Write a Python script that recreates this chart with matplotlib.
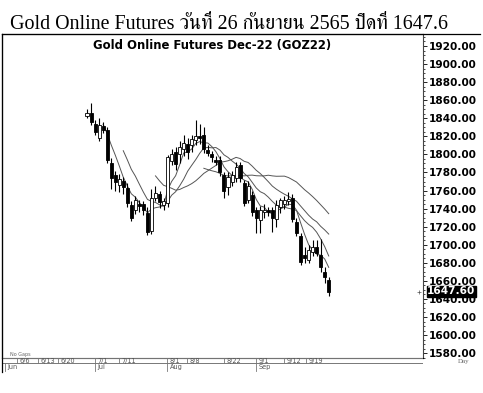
import matplotlib
matplotlib.use("Agg")
import matplotlib.pyplot as plt
from matplotlib import font_manager
from matplotlib.ft2font import FT2Font
from matplotlib.lines import Line2D
from matplotlib.ticker import MultipleLocator, FormatStrFormatter
import numpy as np
import pandas as pd

# daily candles, GOZ22, 29 Jun .. 26 Sep 2022
opens = [1842, 1846, 1834, 1818, 1832, 1827, 1791, 1777, 1766, 1771,
         1763, 1744, 1738, 1745, 1745, 1735, 1715, 1752, 1756, 1744,
         1746, 1793, 1803, 1800, 1806, 1812, 1810, 1816, 1820, 1822,
         1805, 1800, 1794, 1794, 1777, 1764, 1770, 1774, 1788, 1768,
         1750, 1755, 1738, 1727, 1736, 1738, 1738, 1728, 1742, 1745,
         1748, 1752, 1725, 1710, 1689, 1683, 1692, 1697, 1689, 1670,
         1661]
highs = [1850, 1857, 1838, 1840, 1836, 1830, 1796, 1782, 1778, 1775,
         1768, 1748, 1754, 1750, 1748, 1742, 1762, 1765, 1760, 1752,
         1799, 1806, 1808, 1815, 1822, 1818, 1822, 1838, 1834, 1830,
         1810, 1804, 1798, 1798, 1780, 1780, 1782, 1792, 1792, 1772,
         1771, 1760, 1742, 1743, 1745, 1742, 1742, 1750, 1752, 1754,
         1758, 1756, 1730, 1713, 1698, 1700, 1705, 1705, 1706, 1675,
         1664]
lows = [1840, 1833, 1822, 1815, 1824, 1790, 1762, 1760, 1758, 1756,
        1742, 1726, 1734, 1736, 1733, 1711, 1712, 1748, 1741, 1738,
        1742, 1788, 1783, 1790, 1798, 1795, 1803, 1810, 1812, 1802,
        1798, 1792, 1788, 1776, 1752, 1755, 1765, 1770, 1770, 1743,
        1746, 1732, 1713, 1713, 1730, 1732, 1714, 1720, 1735, 1740,
        1744, 1725, 1710, 1678, 1680, 1680, 1688, 1688, 1670, 1658,
        1643]
closes = [1846, 1836, 1825, 1833, 1827, 1794, 1774, 1769, 1773, 1764,
          1746, 1730, 1750, 1743, 1739, 1714, 1752, 1757, 1747, 1748,
          1797, 1801, 1789, 1808, 1813, 1803, 1817, 1820, 1818, 1806,
          1802, 1797, 1792, 1780, 1760, 1775, 1777, 1786, 1774, 1746,
          1765, 1736, 1730, 1738, 1739, 1736, 1730, 1744, 1749, 1750,
          1751, 1728, 1713, 1681, 1685, 1694, 1697, 1691, 1675, 1664,
          1647.6]
ma_windows = [5, 10, 18, 30]

# date scale (trading-day index, 0 = first candle)
day_ticks = [-17.4, -12.2, -7.2, 2, 7.9, 19.9, 24.8, 34, 41.9, 48.9, 54.3]
day_labels = ["6/6", "6/13", "6/20", "7/1", "7/11", "8/1", "8/8", "8/22",
              "9/1", "9/12", "9/19"]
month_ticks = [-20.4, 2, 19.9, 41.9]
month_labels = ["Jun", "Jul", "Aug", "Sep"]

title = "Gold Online Futures วันที่ 26 กันยายน 2565 ปิดที่ 1647.6"
chart_title = "Gold Online Futures Dec-22 (GOZ22)"
last_price = closes[-1]


def thai_family():
    # first installed family that has Thai glyphs, serif preferred
    found = []
    for f in font_manager.fontManager.ttflist:
        try:
            if 0x0E01 in FT2Font(f.fname).get_charmap():
                found.append(f.name)
        except Exception:
            pass
    found.sort(key=lambda n: 0 if "Serif" in n else 1)
    return found[0] if found else "DejaVu Sans"


W, H = 483, 393
fig = plt.figure(figsize=(W / 100, H / 100), dpi=100)


def fx(px):
    return px / W


def fy(py):
    return 1 - py / H


ax = fig.add_axes([fx(2), fy(358), fx(423 - 2), (358 - 34) / H])
dax = fig.add_axes([fx(2), fy(372), fx(423 - 2), (372 - 358) / H], sharex=ax)

idx = np.arange(len(closes))
o = np.array(opens, float)
c = np.array(closes, float)
up = c >= o

ax.vlines(idx, lows, highs, color="black", lw=0.8, zorder=2)
body_lo = np.minimum(o, c)
body_h = np.maximum(np.abs(c - o), 0.9)
ax.bar(idx, body_h, bottom=body_lo, width=0.75,
       color=np.where(up, "white", "black"), edgecolor="black",
       linewidth=0.6, zorder=3)

close_s = pd.Series(c)
for w in ma_windows:
    ax.plot(idx, close_s.rolling(w).mean(), color="#555555", lw=0.7, zorder=1)

ax.set_xlim(-21.1, 83.4)
ax.set_ylim(1574.6, 1933.3)
ax.yaxis.tick_right()
ax.yaxis.set_major_locator(MultipleLocator(20))
ax.yaxis.set_minor_locator(MultipleLocator(5))
ax.yaxis.set_major_formatter(FormatStrFormatter("%.2f"))
ax.tick_params(axis="y", which="major", length=3, width=0.6, pad=1,
               labelsize=7.6)
ax.tick_params(axis="y", which="minor", length=1.5, width=0.5)
for lab in ax.get_yticklabels():
    lab.set_fontweight("bold")
ax.tick_params(axis="x", bottom=False, labelbottom=False)
for s in ax.spines.values():
    s.set_linewidth(0.8)
ax.spines["right"].set_color("#444444")

ax.text(0.5, 0.985, chart_title, transform=ax.transAxes, ha="center",
        va="top", fontsize=8.4, fontweight="bold")
ax.text(0.018, 0.003, "No Gaps", transform=ax.transAxes, ha="left",
        va="bottom", fontsize=3.5, color="#666666")

# last price flag on the price scale
ax.annotate(f"{last_price:.2f}", xy=(1.0, last_price),
            xycoords=("axes fraction", "data"), xytext=(3, 0.5),
            textcoords="offset points", ha="left", va="center",
            fontsize=7.6, fontweight="bold", color="white", zorder=5,
            annotation_clip=False,
            bbox=dict(boxstyle="square,pad=0.05", fc="black", ec="black"))
ax.plot([82.3], [last_price], marker="+", ms=2.5, color="#555555", mew=0.5,
        clip_on=False)

# date strip
dax.set_ylim(0, 1)
dax.axis("off")
dax.axhline(1.0, color="#777777", lw=0.7)
dax.axhline(0.62, color="#777777", lw=0.7)
for t, lab in zip(day_ticks, day_labels):
    dax.plot([t, t], [0.62, 1.0], color="#777777", lw=0.6)
    dax.text(t + 0.6, 0.81, lab, ha="left", va="center", fontsize=4.7,
             color="#555555")
for t, lab in zip(month_ticks, month_labels):
    dax.plot([t, t], [0.1, 0.62], color="#777777", lw=0.6)
    dax.text(t + 0.6, 0.33, lab, ha="left", va="center", fontsize=4.7,
             color="#555555")

# outer frame and header
fig.add_artist(Line2D([fx(2), fx(480)], [fy(34), fy(34)], color="black",
                      lw=0.9))
fig.add_artist(Line2D([fx(2), fx(2)], [fy(34), fy(372)], color="black",
                      lw=0.9))
fig.text(fx(458), fy(362), "Day", fontsize=5, color="#666666",
         family="Liberation Serif", va="center")
fig.text(fx(10), fy(29), title, fontsize=14.4, va="baseline",
         family=["Liberation Serif", thai_family()])

fig.savefig("out.png", dpi=100, facecolor="white")
